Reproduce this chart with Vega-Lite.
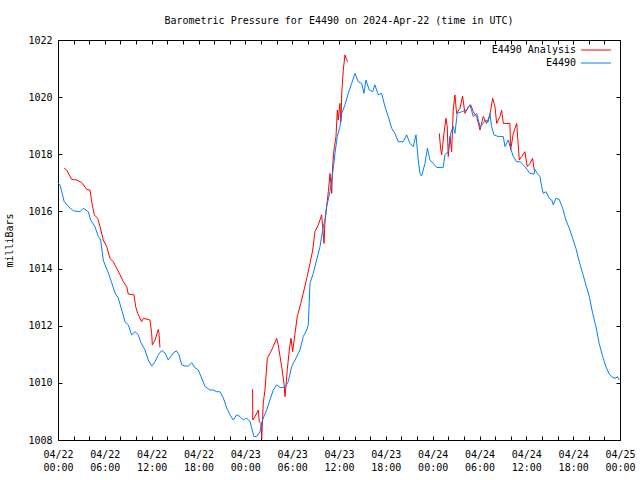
{
  "$schema": "https://vega.github.io/schema/vega-lite/v6.json",
  "width": 562,
  "height": 400,
  "autosize": {"type": "none"},
  "padding": {"left": 58, "top": 40, "right": 20, "bottom": 40},
  "background": "white",
  "title": {
    "text": "Barometric Pressure for E4490 on 2024-Apr-22 (time in UTC)",
    "font": "DejaVu Sans Mono",
    "fontSize": 10,
    "fontWeight": "normal",
    "color": "black",
    "anchor": "middle",
    "frame": "group",
    "baseline": "alphabetic",
    "offset": 1
  },
  "config": {
    "view": {"stroke": "black", "strokeWidth": 1},
    "axis": {
      "domain": false,
      "grid": false,
      "tickColor": "black",
      "tickWidth": 1,
      "tickSize": -4,
      "labelFont": "DejaVu Sans Mono",
      "labelFontSize": 10,
      "labelColor": "black",
      "titleFont": "DejaVu Sans Mono",
      "titleFontSize": 10,
      "titleFontWeight": "normal",
      "titleColor": "black"
    },
    "legend": {
      "labelFont": "DejaVu Sans Mono",
      "labelFontSize": 10,
      "labelColor": "black"
    }
  },
  "data": {
    "values": [
      {"series": "E4490 Analysis", "segment": 1, "time": "2024-04-22T00:48:00Z", "pressure": 1017.51},
      {"series": "E4490 Analysis", "segment": 1, "time": "2024-04-22T01:07:00Z", "pressure": 1017.45},
      {"series": "E4490 Analysis", "segment": 1, "time": "2024-04-22T01:45:00Z", "pressure": 1017.12},
      {"series": "E4490 Analysis", "segment": 1, "time": "2024-04-22T02:24:00Z", "pressure": 1017.10},
      {"series": "E4490 Analysis", "segment": 1, "time": "2024-04-22T03:02:00Z", "pressure": 1017.01},
      {"series": "E4490 Analysis", "segment": 1, "time": "2024-04-22T03:41:00Z", "pressure": 1016.77},
      {"series": "E4490 Analysis", "segment": 1, "time": "2024-04-22T04:06:00Z", "pressure": 1016.75},
      {"series": "E4490 Analysis", "segment": 1, "time": "2024-04-22T04:19:00Z", "pressure": 1016.34},
      {"series": "E4490 Analysis", "segment": 1, "time": "2024-04-22T04:39:00Z", "pressure": 1015.88},
      {"series": "E4490 Analysis", "segment": 1, "time": "2024-04-22T04:50:00Z", "pressure": 1015.82},
      {"series": "E4490 Analysis", "segment": 1, "time": "2024-04-22T05:05:00Z", "pressure": 1015.76},
      {"series": "E4490 Analysis", "segment": 1, "time": "2024-04-22T05:23:00Z", "pressure": 1015.47},
      {"series": "E4490 Analysis", "segment": 1, "time": "2024-04-22T05:48:00Z", "pressure": 1015.00},
      {"series": "E4490 Analysis", "segment": 1, "time": "2024-04-22T06:14:00Z", "pressure": 1014.77},
      {"series": "E4490 Analysis", "segment": 1, "time": "2024-04-22T06:40:00Z", "pressure": 1014.36},
      {"series": "E4490 Analysis", "segment": 1, "time": "2024-04-22T07:05:00Z", "pressure": 1014.24},
      {"series": "E4490 Analysis", "segment": 1, "time": "2024-04-22T07:31:00Z", "pressure": 1014.01},
      {"series": "E4490 Analysis", "segment": 1, "time": "2024-04-22T07:57:00Z", "pressure": 1013.78},
      {"series": "E4490 Analysis", "segment": 1, "time": "2024-04-22T08:22:00Z", "pressure": 1013.54},
      {"series": "E4490 Analysis", "segment": 1, "time": "2024-04-22T08:48:00Z", "pressure": 1013.37},
      {"series": "E4490 Analysis", "segment": 1, "time": "2024-04-22T09:00:00Z", "pressure": 1013.11},
      {"series": "E4490 Analysis", "segment": 1, "time": "2024-04-22T09:44:00Z", "pressure": 1013.08},
      {"series": "E4490 Analysis", "segment": 1, "time": "2024-04-22T09:57:00Z", "pressure": 1012.67},
      {"series": "E4490 Analysis", "segment": 1, "time": "2024-04-22T10:13:00Z", "pressure": 1012.43},
      {"series": "E4490 Analysis", "segment": 1, "time": "2024-04-22T10:43:00Z", "pressure": 1012.14},
      {"series": "E4490 Analysis", "segment": 1, "time": "2024-04-22T10:56:00Z", "pressure": 1012.26},
      {"series": "E4490 Analysis", "segment": 1, "time": "2024-04-22T11:47:00Z", "pressure": 1012.20},
      {"series": "E4490 Analysis", "segment": 1, "time": "2024-04-22T12:00:00Z", "pressure": 1011.73},
      {"series": "E4490 Analysis", "segment": 1, "time": "2024-04-22T12:05:00Z", "pressure": 1011.33},
      {"series": "E4490 Analysis", "segment": 1, "time": "2024-04-22T12:26:00Z", "pressure": 1011.50},
      {"series": "E4490 Analysis", "segment": 1, "time": "2024-04-22T12:51:00Z", "pressure": 1011.87},
      {"series": "E4490 Analysis", "segment": 1, "time": "2024-04-22T12:56:00Z", "pressure": 1011.73},
      {"series": "E4490 Analysis", "segment": 1, "time": "2024-04-22T13:04:00Z", "pressure": 1011.24},
      {"series": "E4490 Analysis", "segment": 2, "time": "2024-04-23T00:56:00Z", "pressure": 1009.78},
      {"series": "E4490 Analysis", "segment": 2, "time": "2024-04-23T00:57:00Z", "pressure": 1008.70},
      {"series": "E4490 Analysis", "segment": 2, "time": "2024-04-23T01:14:00Z", "pressure": 1008.82},
      {"series": "E4490 Analysis", "segment": 2, "time": "2024-04-23T01:40:00Z", "pressure": 1009.05},
      {"series": "E4490 Analysis", "segment": 2, "time": "2024-04-23T01:47:00Z", "pressure": 1008.64},
      {"series": "E4490 Analysis", "segment": 2, "time": "2024-04-23T02:00:00Z", "pressure": 1008.58},
      {"series": "E4490 Analysis", "segment": 2, "time": "2024-04-23T02:06:00Z", "pressure": 1008.05},
      {"series": "E4490 Analysis", "segment": 2, "time": "2024-04-23T02:18:00Z", "pressure": 1009.30},
      {"series": "E4490 Analysis", "segment": 2, "time": "2024-04-23T02:31:00Z", "pressure": 1009.75},
      {"series": "E4490 Analysis", "segment": 2, "time": "2024-04-23T02:49:00Z", "pressure": 1010.86},
      {"series": "E4490 Analysis", "segment": 2, "time": "2024-04-23T03:09:00Z", "pressure": 1011.03},
      {"series": "E4490 Analysis", "segment": 2, "time": "2024-04-23T03:35:00Z", "pressure": 1011.27},
      {"series": "E4490 Analysis", "segment": 2, "time": "2024-04-23T04:01:00Z", "pressure": 1011.56},
      {"series": "E4490 Analysis", "segment": 2, "time": "2024-04-23T04:13:00Z", "pressure": 1011.33},
      {"series": "E4490 Analysis", "segment": 2, "time": "2024-04-23T04:39:00Z", "pressure": 1010.57},
      {"series": "E4490 Analysis", "segment": 2, "time": "2024-04-23T04:57:00Z", "pressure": 1009.98},
      {"series": "E4490 Analysis", "segment": 2, "time": "2024-04-23T05:05:00Z", "pressure": 1009.52},
      {"series": "E4490 Analysis", "segment": 2, "time": "2024-04-23T05:13:00Z", "pressure": 1009.93},
      {"series": "E4490 Analysis", "segment": 2, "time": "2024-04-23T05:22:00Z", "pressure": 1010.45},
      {"series": "E4490 Analysis", "segment": 2, "time": "2024-04-23T05:38:00Z", "pressure": 1011.15},
      {"series": "E4490 Analysis", "segment": 2, "time": "2024-04-23T05:51:00Z", "pressure": 1011.56},
      {"series": "E4490 Analysis", "segment": 2, "time": "2024-04-23T06:04:00Z", "pressure": 1011.09},
      {"series": "E4490 Analysis", "segment": 2, "time": "2024-04-23T06:22:00Z", "pressure": 1011.73},
      {"series": "E4490 Analysis", "segment": 2, "time": "2024-04-23T06:39:00Z", "pressure": 1012.32},
      {"series": "E4490 Analysis", "segment": 2, "time": "2024-04-23T07:06:00Z", "pressure": 1012.78},
      {"series": "E4490 Analysis", "segment": 2, "time": "2024-04-23T07:25:00Z", "pressure": 1013.13},
      {"series": "E4490 Analysis", "segment": 2, "time": "2024-04-23T07:52:00Z", "pressure": 1013.66},
      {"series": "E4490 Analysis", "segment": 2, "time": "2024-04-23T08:17:00Z", "pressure": 1014.18},
      {"series": "E4490 Analysis", "segment": 2, "time": "2024-04-23T08:38:00Z", "pressure": 1014.65},
      {"series": "E4490 Analysis", "segment": 2, "time": "2024-04-23T08:55:00Z", "pressure": 1015.29},
      {"series": "E4490 Analysis", "segment": 2, "time": "2024-04-23T09:21:00Z", "pressure": 1015.53},
      {"series": "E4490 Analysis", "segment": 2, "time": "2024-04-23T09:47:00Z", "pressure": 1015.88},
      {"series": "E4490 Analysis", "segment": 2, "time": "2024-04-23T09:54:00Z", "pressure": 1015.47},
      {"series": "E4490 Analysis", "segment": 2, "time": "2024-04-23T10:05:00Z", "pressure": 1014.88},
      {"series": "E4490 Analysis", "segment": 2, "time": "2024-04-23T10:12:00Z", "pressure": 1015.64},
      {"series": "E4490 Analysis", "segment": 2, "time": "2024-04-23T10:25:00Z", "pressure": 1016.17},
      {"series": "E4490 Analysis", "segment": 2, "time": "2024-04-23T10:38:00Z", "pressure": 1016.69},
      {"series": "E4490 Analysis", "segment": 2, "time": "2024-04-23T10:51:00Z", "pressure": 1017.33},
      {"series": "E4490 Analysis", "segment": 2, "time": "2024-04-23T11:04:00Z", "pressure": 1016.63},
      {"series": "E4490 Analysis", "segment": 2, "time": "2024-04-23T11:11:00Z", "pressure": 1017.57},
      {"series": "E4490 Analysis", "segment": 2, "time": "2024-04-23T11:21:00Z", "pressure": 1018.15},
      {"series": "E4490 Analysis", "segment": 2, "time": "2024-04-23T11:37:00Z", "pressure": 1018.62},
      {"series": "E4490 Analysis", "segment": 2, "time": "2024-04-23T11:47:00Z", "pressure": 1019.55},
      {"series": "E4490 Analysis", "segment": 2, "time": "2024-04-23T11:54:00Z", "pressure": 1019.20},
      {"series": "E4490 Analysis", "segment": 2, "time": "2024-04-23T12:07:00Z", "pressure": 1019.78},
      {"series": "E4490 Analysis", "segment": 2, "time": "2024-04-23T12:15:00Z", "pressure": 1019.14},
      {"series": "E4490 Analysis", "segment": 2, "time": "2024-04-23T12:21:00Z", "pressure": 1020.13},
      {"series": "E4490 Analysis", "segment": 2, "time": "2024-04-23T12:33:00Z", "pressure": 1020.95},
      {"series": "E4490 Analysis", "segment": 2, "time": "2024-04-23T12:46:00Z", "pressure": 1021.48},
      {"series": "E4490 Analysis", "segment": 2, "time": "2024-04-23T12:54:00Z", "pressure": 1021.36},
      {"series": "E4490 Analysis", "segment": 2, "time": "2024-04-23T13:07:00Z", "pressure": 1021.24},
      {"series": "E4490 Analysis", "segment": 3, "time": "2024-04-24T00:51:00Z", "pressure": 1018.73},
      {"series": "E4490 Analysis", "segment": 3, "time": "2024-04-24T01:01:00Z", "pressure": 1018.21},
      {"series": "E4490 Analysis", "segment": 3, "time": "2024-04-24T01:09:00Z", "pressure": 1017.98},
      {"series": "E4490 Analysis", "segment": 3, "time": "2024-04-24T01:27:00Z", "pressure": 1018.73},
      {"series": "E4490 Analysis", "segment": 3, "time": "2024-04-24T01:42:00Z", "pressure": 1019.26},
      {"series": "E4490 Analysis", "segment": 3, "time": "2024-04-24T01:52:00Z", "pressure": 1018.97},
      {"series": "E4490 Analysis", "segment": 3, "time": "2024-04-24T02:00:00Z", "pressure": 1017.92},
      {"series": "E4490 Analysis", "segment": 3, "time": "2024-04-24T02:13:00Z", "pressure": 1018.62},
      {"series": "E4490 Analysis", "segment": 3, "time": "2024-04-24T02:26:00Z", "pressure": 1018.09},
      {"series": "E4490 Analysis", "segment": 3, "time": "2024-04-24T02:38:00Z", "pressure": 1019.55},
      {"series": "E4490 Analysis", "segment": 3, "time": "2024-04-24T02:51:00Z", "pressure": 1020.08},
      {"series": "E4490 Analysis", "segment": 3, "time": "2024-04-24T03:04:00Z", "pressure": 1019.43},
      {"series": "E4490 Analysis", "segment": 3, "time": "2024-04-24T03:30:00Z", "pressure": 1019.61},
      {"series": "E4490 Analysis", "segment": 3, "time": "2024-04-24T03:50:00Z", "pressure": 1020.04},
      {"series": "E4490 Analysis", "segment": 3, "time": "2024-04-24T04:08:00Z", "pressure": 1019.43},
      {"series": "E4490 Analysis", "segment": 3, "time": "2024-04-24T04:34:00Z", "pressure": 1019.67},
      {"series": "E4490 Analysis", "segment": 3, "time": "2024-04-24T04:52:00Z", "pressure": 1019.73},
      {"series": "E4490 Analysis", "segment": 3, "time": "2024-04-24T05:12:00Z", "pressure": 1019.49},
      {"series": "E4490 Analysis", "segment": 3, "time": "2024-04-24T05:38:00Z", "pressure": 1019.32},
      {"series": "E4490 Analysis", "segment": 3, "time": "2024-04-24T06:04:00Z", "pressure": 1018.85},
      {"series": "E4490 Analysis", "segment": 3, "time": "2024-04-24T06:29:00Z", "pressure": 1019.32},
      {"series": "E4490 Analysis", "segment": 3, "time": "2024-04-24T06:55:00Z", "pressure": 1019.08},
      {"series": "E4490 Analysis", "segment": 3, "time": "2024-04-24T07:20:00Z", "pressure": 1019.38},
      {"series": "E4490 Analysis", "segment": 3, "time": "2024-04-24T07:41:00Z", "pressure": 1019.96},
      {"series": "E4490 Analysis", "segment": 3, "time": "2024-04-24T07:59:00Z", "pressure": 1019.67},
      {"series": "E4490 Analysis", "segment": 3, "time": "2024-04-24T08:12:00Z", "pressure": 1019.08},
      {"series": "E4490 Analysis", "segment": 3, "time": "2024-04-24T08:37:00Z", "pressure": 1019.32},
      {"series": "E4490 Analysis", "segment": 3, "time": "2024-04-24T08:50:00Z", "pressure": 1019.55},
      {"series": "E4490 Analysis", "segment": 3, "time": "2024-04-24T09:03:00Z", "pressure": 1019.08},
      {"series": "E4490 Analysis", "segment": 3, "time": "2024-04-24T09:54:00Z", "pressure": 1019.08},
      {"series": "E4490 Analysis", "segment": 3, "time": "2024-04-24T09:59:00Z", "pressure": 1018.15},
      {"series": "E4490 Analysis", "segment": 3, "time": "2024-04-24T10:20:00Z", "pressure": 1018.73},
      {"series": "E4490 Analysis", "segment": 3, "time": "2024-04-24T10:46:00Z", "pressure": 1019.08},
      {"series": "E4490 Analysis", "segment": 3, "time": "2024-04-24T11:06:00Z", "pressure": 1017.80},
      {"series": "E4490 Analysis", "segment": 3, "time": "2024-04-24T11:24:00Z", "pressure": 1017.92},
      {"series": "E4490 Analysis", "segment": 3, "time": "2024-04-24T11:49:00Z", "pressure": 1018.09},
      {"series": "E4490 Analysis", "segment": 3, "time": "2024-04-24T12:07:00Z", "pressure": 1017.57},
      {"series": "E4490 Analysis", "segment": 3, "time": "2024-04-24T12:28:00Z", "pressure": 1017.68},
      {"series": "E4490 Analysis", "segment": 3, "time": "2024-04-24T12:48:00Z", "pressure": 1017.86},
      {"series": "E4490 Analysis", "segment": 3, "time": "2024-04-24T13:01:00Z", "pressure": 1017.45},
      {"series": "E4490", "segment": 0, "time": "2024-04-22T00:00:00Z", "pressure": 1017.00},
      {"series": "E4490", "segment": 0, "time": "2024-04-22T00:15:00Z", "pressure": 1016.93},
      {"series": "E4490", "segment": 0, "time": "2024-04-22T00:48:00Z", "pressure": 1016.34},
      {"series": "E4490", "segment": 0, "time": "2024-04-22T01:32:00Z", "pressure": 1016.12},
      {"series": "E4490", "segment": 0, "time": "2024-04-22T01:58:00Z", "pressure": 1016.02},
      {"series": "E4490", "segment": 0, "time": "2024-04-22T02:49:00Z", "pressure": 1015.99},
      {"series": "E4490", "segment": 0, "time": "2024-04-22T03:14:00Z", "pressure": 1016.11},
      {"series": "E4490", "segment": 0, "time": "2024-04-22T03:53:00Z", "pressure": 1015.99},
      {"series": "E4490", "segment": 0, "time": "2024-04-22T04:11:00Z", "pressure": 1015.70},
      {"series": "E4490", "segment": 0, "time": "2024-04-22T04:44:00Z", "pressure": 1015.47},
      {"series": "E4490", "segment": 0, "time": "2024-04-22T05:10:00Z", "pressure": 1015.12},
      {"series": "E4490", "segment": 0, "time": "2024-04-22T05:28:00Z", "pressure": 1015.00},
      {"series": "E4490", "segment": 0, "time": "2024-04-22T05:48:00Z", "pressure": 1014.30},
      {"series": "E4490", "segment": 0, "time": "2024-04-22T06:01:00Z", "pressure": 1014.13},
      {"series": "E4490", "segment": 0, "time": "2024-04-22T06:27:00Z", "pressure": 1013.85},
      {"series": "E4490", "segment": 0, "time": "2024-04-22T06:53:00Z", "pressure": 1013.50},
      {"series": "E4490", "segment": 0, "time": "2024-04-22T07:18:00Z", "pressure": 1013.15},
      {"series": "E4490", "segment": 0, "time": "2024-04-22T07:43:00Z", "pressure": 1012.97},
      {"series": "E4490", "segment": 0, "time": "2024-04-22T08:10:00Z", "pressure": 1012.55},
      {"series": "E4490", "segment": 0, "time": "2024-04-22T08:35:00Z", "pressure": 1012.14},
      {"series": "E4490", "segment": 0, "time": "2024-04-22T09:00:00Z", "pressure": 1012.03},
      {"series": "E4490", "segment": 0, "time": "2024-04-22T09:26:00Z", "pressure": 1011.68},
      {"series": "E4490", "segment": 0, "time": "2024-04-22T09:52:00Z", "pressure": 1011.79},
      {"series": "E4490", "segment": 0, "time": "2024-04-22T10:17:00Z", "pressure": 1011.68},
      {"series": "E4490", "segment": 0, "time": "2024-04-22T10:38:00Z", "pressure": 1011.40},
      {"series": "E4490", "segment": 0, "time": "2024-04-22T11:09:00Z", "pressure": 1011.15},
      {"series": "E4490", "segment": 0, "time": "2024-04-22T11:34:00Z", "pressure": 1010.80},
      {"series": "E4490", "segment": 0, "time": "2024-04-22T12:00:00Z", "pressure": 1010.59},
      {"series": "E4490", "segment": 0, "time": "2024-04-22T12:26:00Z", "pressure": 1010.74},
      {"series": "E4490", "segment": 0, "time": "2024-04-22T12:51:00Z", "pressure": 1010.98},
      {"series": "E4490", "segment": 0, "time": "2024-04-22T13:17:00Z", "pressure": 1011.13},
      {"series": "E4490", "segment": 0, "time": "2024-04-22T13:42:00Z", "pressure": 1011.05},
      {"series": "E4490", "segment": 0, "time": "2024-04-22T14:08:00Z", "pressure": 1010.80},
      {"series": "E4490", "segment": 0, "time": "2024-04-22T14:46:00Z", "pressure": 1011.05},
      {"series": "E4490", "segment": 0, "time": "2024-04-22T15:12:00Z", "pressure": 1011.12},
      {"series": "E4490", "segment": 0, "time": "2024-04-22T15:30:00Z", "pressure": 1010.98},
      {"series": "E4490", "segment": 0, "time": "2024-04-22T15:51:00Z", "pressure": 1010.63},
      {"series": "E4490", "segment": 0, "time": "2024-04-22T16:16:00Z", "pressure": 1010.59},
      {"series": "E4490", "segment": 0, "time": "2024-04-22T16:42:00Z", "pressure": 1010.59},
      {"series": "E4490", "segment": 0, "time": "2024-04-22T17:08:00Z", "pressure": 1010.70},
      {"series": "E4490", "segment": 0, "time": "2024-04-22T17:33:00Z", "pressure": 1010.53},
      {"series": "E4490", "segment": 0, "time": "2024-04-22T17:58:00Z", "pressure": 1010.45},
      {"series": "E4490", "segment": 0, "time": "2024-04-22T18:24:00Z", "pressure": 1010.17},
      {"series": "E4490", "segment": 0, "time": "2024-04-22T18:50:00Z", "pressure": 1009.87},
      {"series": "E4490", "segment": 0, "time": "2024-04-22T19:28:00Z", "pressure": 1009.75},
      {"series": "E4490", "segment": 0, "time": "2024-04-22T19:54:00Z", "pressure": 1009.75},
      {"series": "E4490", "segment": 0, "time": "2024-04-22T20:20:00Z", "pressure": 1009.69},
      {"series": "E4490", "segment": 0, "time": "2024-04-22T20:45:00Z", "pressure": 1009.69},
      {"series": "E4490", "segment": 0, "time": "2024-04-22T21:11:00Z", "pressure": 1009.47},
      {"series": "E4490", "segment": 0, "time": "2024-04-22T21:37:00Z", "pressure": 1009.12},
      {"series": "E4490", "segment": 0, "time": "2024-04-22T22:02:00Z", "pressure": 1008.88},
      {"series": "E4490", "segment": 0, "time": "2024-04-22T22:27:00Z", "pressure": 1008.70},
      {"series": "E4490", "segment": 0, "time": "2024-04-22T22:53:00Z", "pressure": 1008.88},
      {"series": "E4490", "segment": 0, "time": "2024-04-22T23:19:00Z", "pressure": 1008.82},
      {"series": "E4490", "segment": 0, "time": "2024-04-22T23:44:00Z", "pressure": 1008.70},
      {"series": "E4490", "segment": 0, "time": "2024-04-23T00:10:00Z", "pressure": 1008.77},
      {"series": "E4490", "segment": 0, "time": "2024-04-23T00:36:00Z", "pressure": 1008.64},
      {"series": "E4490", "segment": 0, "time": "2024-04-23T00:49:00Z", "pressure": 1008.42},
      {"series": "E4490", "segment": 0, "time": "2024-04-23T01:06:00Z", "pressure": 1008.12},
      {"series": "E4490", "segment": 0, "time": "2024-04-23T01:27:00Z", "pressure": 1008.12},
      {"series": "E4490", "segment": 0, "time": "2024-04-23T01:53:00Z", "pressure": 1008.29},
      {"series": "E4490", "segment": 0, "time": "2024-04-23T02:06:00Z", "pressure": 1008.60},
      {"series": "E4490", "segment": 0, "time": "2024-04-23T02:18:00Z", "pressure": 1008.77},
      {"series": "E4490", "segment": 0, "time": "2024-04-23T02:44:00Z", "pressure": 1009.05},
      {"series": "E4490", "segment": 0, "time": "2024-04-23T03:09:00Z", "pressure": 1009.40},
      {"series": "E4490", "segment": 0, "time": "2024-04-23T03:35:00Z", "pressure": 1009.75},
      {"series": "E4490", "segment": 0, "time": "2024-04-23T04:01:00Z", "pressure": 1009.93},
      {"series": "E4490", "segment": 0, "time": "2024-04-23T04:26:00Z", "pressure": 1009.84},
      {"series": "E4490", "segment": 0, "time": "2024-04-23T05:05:00Z", "pressure": 1009.84},
      {"series": "E4490", "segment": 0, "time": "2024-04-23T05:30:00Z", "pressure": 1010.04},
      {"series": "E4490", "segment": 0, "time": "2024-04-23T05:56:00Z", "pressure": 1010.57},
      {"series": "E4490", "segment": 0, "time": "2024-04-23T06:22:00Z", "pressure": 1010.80},
      {"series": "E4490", "segment": 0, "time": "2024-04-23T07:00:00Z", "pressure": 1011.15},
      {"series": "E4490", "segment": 0, "time": "2024-04-23T07:25:00Z", "pressure": 1011.62},
      {"series": "E4490", "segment": 0, "time": "2024-04-23T07:52:00Z", "pressure": 1011.85},
      {"series": "E4490", "segment": 0, "time": "2024-04-23T08:04:00Z", "pressure": 1012.03},
      {"series": "E4490", "segment": 0, "time": "2024-04-23T08:17:00Z", "pressure": 1013.48},
      {"series": "E4490", "segment": 0, "time": "2024-04-23T08:42:00Z", "pressure": 1013.83},
      {"series": "E4490", "segment": 0, "time": "2024-04-23T09:08:00Z", "pressure": 1014.30},
      {"series": "E4490", "segment": 0, "time": "2024-04-23T09:34:00Z", "pressure": 1014.77},
      {"series": "E4490", "segment": 0, "time": "2024-04-23T09:54:00Z", "pressure": 1015.35},
      {"series": "E4490", "segment": 0, "time": "2024-04-23T10:12:00Z", "pressure": 1015.70},
      {"series": "E4490", "segment": 0, "time": "2024-04-23T10:25:00Z", "pressure": 1016.17},
      {"series": "E4490", "segment": 0, "time": "2024-04-23T10:51:00Z", "pressure": 1016.69},
      {"series": "E4490", "segment": 0, "time": "2024-04-23T11:16:00Z", "pressure": 1017.51},
      {"series": "E4490", "segment": 0, "time": "2024-04-23T11:29:00Z", "pressure": 1018.03},
      {"series": "E4490", "segment": 0, "time": "2024-04-23T11:47:00Z", "pressure": 1018.62},
      {"series": "E4490", "segment": 0, "time": "2024-04-23T12:07:00Z", "pressure": 1018.97},
      {"series": "E4490", "segment": 0, "time": "2024-04-23T12:21:00Z", "pressure": 1019.43},
      {"series": "E4490", "segment": 0, "time": "2024-04-23T12:46:00Z", "pressure": 1019.73},
      {"series": "E4490", "segment": 0, "time": "2024-04-23T13:11:00Z", "pressure": 1020.13},
      {"series": "E4490", "segment": 0, "time": "2024-04-23T13:37:00Z", "pressure": 1020.48},
      {"series": "E4490", "segment": 0, "time": "2024-04-23T14:03:00Z", "pressure": 1020.83},
      {"series": "E4490", "segment": 0, "time": "2024-04-23T14:28:00Z", "pressure": 1020.54},
      {"series": "E4490", "segment": 0, "time": "2024-04-23T14:54:00Z", "pressure": 1020.48},
      {"series": "E4490", "segment": 0, "time": "2024-04-23T15:12:00Z", "pressure": 1020.13},
      {"series": "E4490", "segment": 0, "time": "2024-04-23T15:27:00Z", "pressure": 1020.60},
      {"series": "E4490", "segment": 0, "time": "2024-04-23T15:53:00Z", "pressure": 1020.25},
      {"series": "E4490", "segment": 0, "time": "2024-04-23T16:19:00Z", "pressure": 1020.19},
      {"series": "E4490", "segment": 0, "time": "2024-04-23T16:36:00Z", "pressure": 1020.43},
      {"series": "E4490", "segment": 0, "time": "2024-04-23T17:02:00Z", "pressure": 1020.08},
      {"series": "E4490", "segment": 0, "time": "2024-04-23T17:28:00Z", "pressure": 1020.13},
      {"series": "E4490", "segment": 0, "time": "2024-04-23T17:53:00Z", "pressure": 1019.67},
      {"series": "E4490", "segment": 0, "time": "2024-04-23T18:19:00Z", "pressure": 1019.32},
      {"series": "E4490", "segment": 0, "time": "2024-04-23T18:45:00Z", "pressure": 1018.91},
      {"series": "E4490", "segment": 0, "time": "2024-04-23T19:10:00Z", "pressure": 1018.73},
      {"series": "E4490", "segment": 0, "time": "2024-04-23T19:36:00Z", "pressure": 1018.44},
      {"series": "E4490", "segment": 0, "time": "2024-04-23T20:14:00Z", "pressure": 1018.44},
      {"series": "E4490", "segment": 0, "time": "2024-04-23T20:40:00Z", "pressure": 1018.68},
      {"series": "E4490", "segment": 0, "time": "2024-04-23T21:05:00Z", "pressure": 1018.38},
      {"series": "E4490", "segment": 0, "time": "2024-04-23T21:31:00Z", "pressure": 1018.27},
      {"series": "E4490", "segment": 0, "time": "2024-04-23T21:52:00Z", "pressure": 1018.68},
      {"series": "E4490", "segment": 0, "time": "2024-04-23T22:09:00Z", "pressure": 1017.80},
      {"series": "E4490", "segment": 0, "time": "2024-04-23T22:22:00Z", "pressure": 1017.33},
      {"series": "E4490", "segment": 0, "time": "2024-04-23T22:35:00Z", "pressure": 1017.24},
      {"series": "E4490", "segment": 0, "time": "2024-04-23T23:01:00Z", "pressure": 1017.68},
      {"series": "E4490", "segment": 0, "time": "2024-04-23T23:20:00Z", "pressure": 1018.21},
      {"series": "E4490", "segment": 0, "time": "2024-04-23T23:39:00Z", "pressure": 1017.80},
      {"series": "E4490", "segment": 0, "time": "2024-04-24T00:05:00Z", "pressure": 1017.68},
      {"series": "E4490", "segment": 0, "time": "2024-04-24T00:31:00Z", "pressure": 1017.54},
      {"series": "E4490", "segment": 0, "time": "2024-04-24T01:21:00Z", "pressure": 1017.54},
      {"series": "E4490", "segment": 0, "time": "2024-04-24T01:34:00Z", "pressure": 1017.98},
      {"series": "E4490", "segment": 0, "time": "2024-04-24T02:00:00Z", "pressure": 1018.09},
      {"series": "E4490", "segment": 0, "time": "2024-04-24T02:18:00Z", "pressure": 1018.73},
      {"series": "E4490", "segment": 0, "time": "2024-04-24T02:38:00Z", "pressure": 1018.97},
      {"series": "E4490", "segment": 0, "time": "2024-04-24T02:51:00Z", "pressure": 1018.73},
      {"series": "E4490", "segment": 0, "time": "2024-04-24T03:09:00Z", "pressure": 1019.43},
      {"series": "E4490", "segment": 0, "time": "2024-04-24T03:43:00Z", "pressure": 1019.49},
      {"series": "E4490", "segment": 0, "time": "2024-04-24T04:21:00Z", "pressure": 1019.55},
      {"series": "E4490", "segment": 0, "time": "2024-04-24T04:47:00Z", "pressure": 1019.73},
      {"series": "E4490", "segment": 0, "time": "2024-04-24T05:12:00Z", "pressure": 1019.32},
      {"series": "E4490", "segment": 0, "time": "2024-04-24T05:38:00Z", "pressure": 1019.43},
      {"series": "E4490", "segment": 0, "time": "2024-04-24T06:04:00Z", "pressure": 1018.97},
      {"series": "E4490", "segment": 0, "time": "2024-04-24T06:29:00Z", "pressure": 1019.08},
      {"series": "E4490", "segment": 0, "time": "2024-04-24T06:42:00Z", "pressure": 1019.20},
      {"series": "E4490", "segment": 0, "time": "2024-04-24T07:07:00Z", "pressure": 1019.14},
      {"series": "E4490", "segment": 0, "time": "2024-04-24T07:20:00Z", "pressure": 1019.43},
      {"series": "E4490", "segment": 0, "time": "2024-04-24T07:33:00Z", "pressure": 1018.97},
      {"series": "E4490", "segment": 0, "time": "2024-04-24T07:51:00Z", "pressure": 1018.68},
      {"series": "E4490", "segment": 0, "time": "2024-04-24T08:24:00Z", "pressure": 1018.62},
      {"series": "E4490", "segment": 0, "time": "2024-04-24T09:03:00Z", "pressure": 1018.62},
      {"series": "E4490", "segment": 0, "time": "2024-04-24T09:16:00Z", "pressure": 1018.27},
      {"series": "E4490", "segment": 0, "time": "2024-04-24T09:41:00Z", "pressure": 1018.50},
      {"series": "E4490", "segment": 0, "time": "2024-04-24T09:59:00Z", "pressure": 1018.21},
      {"series": "E4490", "segment": 0, "time": "2024-04-24T10:20:00Z", "pressure": 1017.92},
      {"series": "E4490", "segment": 0, "time": "2024-04-24T10:46:00Z", "pressure": 1017.74},
      {"series": "E4490", "segment": 0, "time": "2024-04-24T11:11:00Z", "pressure": 1017.74},
      {"series": "E4490", "segment": 0, "time": "2024-04-24T11:49:00Z", "pressure": 1017.57},
      {"series": "E4490", "segment": 0, "time": "2024-04-24T12:28:00Z", "pressure": 1017.33},
      {"series": "E4490", "segment": 0, "time": "2024-04-24T12:59:00Z", "pressure": 1017.31},
      {"series": "E4490", "segment": 0, "time": "2024-04-24T13:06:00Z", "pressure": 1017.47},
      {"series": "E4490", "segment": 0, "time": "2024-04-24T13:24:00Z", "pressure": 1017.33},
      {"series": "E4490", "segment": 0, "time": "2024-04-24T13:45:00Z", "pressure": 1017.22},
      {"series": "E4490", "segment": 0, "time": "2024-04-24T13:58:00Z", "pressure": 1016.87},
      {"series": "E4490", "segment": 0, "time": "2024-04-24T14:10:00Z", "pressure": 1016.63},
      {"series": "E4490", "segment": 0, "time": "2024-04-24T14:31:00Z", "pressure": 1016.69},
      {"series": "E4490", "segment": 0, "time": "2024-04-24T14:56:00Z", "pressure": 1016.46},
      {"series": "E4490", "segment": 0, "time": "2024-04-24T15:15:00Z", "pressure": 1016.40},
      {"series": "E4490", "segment": 0, "time": "2024-04-24T15:27:00Z", "pressure": 1016.23},
      {"series": "E4490", "segment": 0, "time": "2024-04-24T15:48:00Z", "pressure": 1016.46},
      {"series": "E4490", "segment": 0, "time": "2024-04-24T16:13:00Z", "pressure": 1016.42},
      {"series": "E4490", "segment": 0, "time": "2024-04-24T16:39:00Z", "pressure": 1016.11},
      {"series": "E4490", "segment": 0, "time": "2024-04-24T17:04:00Z", "pressure": 1015.70},
      {"series": "E4490", "segment": 0, "time": "2024-04-24T17:30:00Z", "pressure": 1015.41},
      {"series": "E4490", "segment": 0, "time": "2024-04-24T17:56:00Z", "pressure": 1015.06},
      {"series": "E4490", "segment": 0, "time": "2024-04-24T18:21:00Z", "pressure": 1014.71},
      {"series": "E4490", "segment": 0, "time": "2024-04-24T18:47:00Z", "pressure": 1014.24},
      {"series": "E4490", "segment": 0, "time": "2024-04-24T19:13:00Z", "pressure": 1013.83},
      {"series": "E4490", "segment": 0, "time": "2024-04-24T19:38:00Z", "pressure": 1013.43},
      {"series": "E4490", "segment": 0, "time": "2024-04-24T20:04:00Z", "pressure": 1013.02},
      {"series": "E4490", "segment": 0, "time": "2024-04-24T20:30:00Z", "pressure": 1012.43},
      {"series": "E4490", "segment": 0, "time": "2024-04-24T20:55:00Z", "pressure": 1011.97},
      {"series": "E4490", "segment": 0, "time": "2024-04-24T21:20:00Z", "pressure": 1011.38},
      {"series": "E4490", "segment": 0, "time": "2024-04-24T21:47:00Z", "pressure": 1010.92},
      {"series": "E4490", "segment": 0, "time": "2024-04-24T22:12:00Z", "pressure": 1010.57},
      {"series": "E4490", "segment": 0, "time": "2024-04-24T22:37:00Z", "pressure": 1010.31},
      {"series": "E4490", "segment": 0, "time": "2024-04-24T23:03:00Z", "pressure": 1010.19},
      {"series": "E4490", "segment": 0, "time": "2024-04-24T23:29:00Z", "pressure": 1010.16},
      {"series": "E4490", "segment": 0, "time": "2024-04-24T23:39:00Z", "pressure": 1010.22},
      {"series": "E4490", "segment": 0, "time": "2024-04-24T23:54:00Z", "pressure": 1010.10}
    ]
  },
  "encoding": {
    "x": {
      "field": "time",
      "type": "temporal",
      "scale": {
        "type": "utc",
        "domain": [
          {"year": 2024, "month": 4, "date": 22, "hours": 0, "utc": true},
          {"year": 2024, "month": 4, "date": 25, "hours": 0, "utc": true}
        ]
      }
    },
    "y": {
      "field": "pressure",
      "type": "quantitative",
      "scale": {"domain": [1008, 1022], "zero": false, "nice": false}
    },
    "color": {
      "field": "series",
      "type": "nominal",
      "scale": {"domain": ["E4490 Analysis", "E4490"], "range": ["#ff0000", "#0080ff"]},
      "legend": {
        "title": null,
        "orient": "none",
        "legendX": 530,
        "legendY": 2,
        "padding": 0,
        "symbolType": "M-2,0L2,0",
        "symbolSize": 225,
        "symbolStrokeWidth": 1,
        "symbolFillColor": "transparent",
        "labelAlign": "right",
        "labelOffset": -28,
        "rowPadding": 0
      }
    },
    "detail": {"field": "segment", "type": "nominal"}
  },
  "layer": [
    {
      "transform": [{"filter": "datum.series === 'E4490 Analysis'"}],
      "mark": {"type": "line", "strokeWidth": 1},
      "encoding": {
        "x": {
          "field": "time",
          "type": "temporal",
          "title": null,
          "axis": {
            "orient": "bottom",
            "values": [
              {"year": 2024, "month": 4, "date": 22, "hours": 0, "utc": true},
              {"year": 2024, "month": 4, "date": 22, "hours": 2, "utc": true},
              {"year": 2024, "month": 4, "date": 22, "hours": 4, "utc": true},
              {"year": 2024, "month": 4, "date": 22, "hours": 6, "utc": true},
              {"year": 2024, "month": 4, "date": 22, "hours": 8, "utc": true},
              {"year": 2024, "month": 4, "date": 22, "hours": 10, "utc": true},
              {"year": 2024, "month": 4, "date": 22, "hours": 12, "utc": true},
              {"year": 2024, "month": 4, "date": 22, "hours": 14, "utc": true},
              {"year": 2024, "month": 4, "date": 22, "hours": 16, "utc": true},
              {"year": 2024, "month": 4, "date": 22, "hours": 18, "utc": true},
              {"year": 2024, "month": 4, "date": 22, "hours": 20, "utc": true},
              {"year": 2024, "month": 4, "date": 22, "hours": 22, "utc": true},
              {"year": 2024, "month": 4, "date": 23, "hours": 0, "utc": true},
              {"year": 2024, "month": 4, "date": 23, "hours": 2, "utc": true},
              {"year": 2024, "month": 4, "date": 23, "hours": 4, "utc": true},
              {"year": 2024, "month": 4, "date": 23, "hours": 6, "utc": true},
              {"year": 2024, "month": 4, "date": 23, "hours": 8, "utc": true},
              {"year": 2024, "month": 4, "date": 23, "hours": 10, "utc": true},
              {"year": 2024, "month": 4, "date": 23, "hours": 12, "utc": true},
              {"year": 2024, "month": 4, "date": 23, "hours": 14, "utc": true},
              {"year": 2024, "month": 4, "date": 23, "hours": 16, "utc": true},
              {"year": 2024, "month": 4, "date": 23, "hours": 18, "utc": true},
              {"year": 2024, "month": 4, "date": 23, "hours": 20, "utc": true},
              {"year": 2024, "month": 4, "date": 23, "hours": 22, "utc": true},
              {"year": 2024, "month": 4, "date": 24, "hours": 0, "utc": true},
              {"year": 2024, "month": 4, "date": 24, "hours": 2, "utc": true},
              {"year": 2024, "month": 4, "date": 24, "hours": 4, "utc": true},
              {"year": 2024, "month": 4, "date": 24, "hours": 6, "utc": true},
              {"year": 2024, "month": 4, "date": 24, "hours": 8, "utc": true},
              {"year": 2024, "month": 4, "date": 24, "hours": 10, "utc": true},
              {"year": 2024, "month": 4, "date": 24, "hours": 12, "utc": true},
              {"year": 2024, "month": 4, "date": 24, "hours": 14, "utc": true},
              {"year": 2024, "month": 4, "date": 24, "hours": 16, "utc": true},
              {"year": 2024, "month": 4, "date": 24, "hours": 18, "utc": true},
              {"year": 2024, "month": 4, "date": 24, "hours": 20, "utc": true},
              {"year": 2024, "month": 4, "date": 24, "hours": 22, "utc": true},
              {"year": 2024, "month": 4, "date": 25, "hours": 0, "utc": true}
            ],
            "labelExpr": "utchours(datum.value) % 6 === 0 ? [utcFormat(datum.value, '%m/%d'), utcFormat(datum.value, '%H:%M')] : ''",
            "labelOverlap": false,
            "labelFlush": false,
            "labelBaseline": "top",
            "labelPadding": 13,
            "labelLineHeight": 13
          }
        },
        "y": {
          "field": "pressure",
          "type": "quantitative",
          "title": "milliBars",
          "axis": {
            "orient": "left",
            "values": [1008, 1010, 1012, 1014, 1016, 1018, 1020, 1022],
            "format": "d",
            "labelPadding": 10,
            "titlePadding": 13
          }
        }
      }
    },
    {
      "transform": [{"filter": "datum.series === 'E4490'"}],
      "mark": {"type": "line", "strokeWidth": 1},
      "encoding": {
        "x": {
          "field": "time",
          "type": "temporal",
          "title": null,
          "axis": {
            "orient": "top",
            "values": [
              {"year": 2024, "month": 4, "date": 22, "hours": 0, "utc": true},
              {"year": 2024, "month": 4, "date": 22, "hours": 2, "utc": true},
              {"year": 2024, "month": 4, "date": 22, "hours": 4, "utc": true},
              {"year": 2024, "month": 4, "date": 22, "hours": 6, "utc": true},
              {"year": 2024, "month": 4, "date": 22, "hours": 8, "utc": true},
              {"year": 2024, "month": 4, "date": 22, "hours": 10, "utc": true},
              {"year": 2024, "month": 4, "date": 22, "hours": 12, "utc": true},
              {"year": 2024, "month": 4, "date": 22, "hours": 14, "utc": true},
              {"year": 2024, "month": 4, "date": 22, "hours": 16, "utc": true},
              {"year": 2024, "month": 4, "date": 22, "hours": 18, "utc": true},
              {"year": 2024, "month": 4, "date": 22, "hours": 20, "utc": true},
              {"year": 2024, "month": 4, "date": 22, "hours": 22, "utc": true},
              {"year": 2024, "month": 4, "date": 23, "hours": 0, "utc": true},
              {"year": 2024, "month": 4, "date": 23, "hours": 2, "utc": true},
              {"year": 2024, "month": 4, "date": 23, "hours": 4, "utc": true},
              {"year": 2024, "month": 4, "date": 23, "hours": 6, "utc": true},
              {"year": 2024, "month": 4, "date": 23, "hours": 8, "utc": true},
              {"year": 2024, "month": 4, "date": 23, "hours": 10, "utc": true},
              {"year": 2024, "month": 4, "date": 23, "hours": 12, "utc": true},
              {"year": 2024, "month": 4, "date": 23, "hours": 14, "utc": true},
              {"year": 2024, "month": 4, "date": 23, "hours": 16, "utc": true},
              {"year": 2024, "month": 4, "date": 23, "hours": 18, "utc": true},
              {"year": 2024, "month": 4, "date": 23, "hours": 20, "utc": true},
              {"year": 2024, "month": 4, "date": 23, "hours": 22, "utc": true},
              {"year": 2024, "month": 4, "date": 24, "hours": 0, "utc": true},
              {"year": 2024, "month": 4, "date": 24, "hours": 2, "utc": true},
              {"year": 2024, "month": 4, "date": 24, "hours": 4, "utc": true},
              {"year": 2024, "month": 4, "date": 24, "hours": 6, "utc": true},
              {"year": 2024, "month": 4, "date": 24, "hours": 8, "utc": true},
              {"year": 2024, "month": 4, "date": 24, "hours": 10, "utc": true},
              {"year": 2024, "month": 4, "date": 24, "hours": 12, "utc": true},
              {"year": 2024, "month": 4, "date": 24, "hours": 14, "utc": true},
              {"year": 2024, "month": 4, "date": 24, "hours": 16, "utc": true},
              {"year": 2024, "month": 4, "date": 24, "hours": 18, "utc": true},
              {"year": 2024, "month": 4, "date": 24, "hours": 20, "utc": true},
              {"year": 2024, "month": 4, "date": 24, "hours": 22, "utc": true},
              {"year": 2024, "month": 4, "date": 25, "hours": 0, "utc": true}
            ],
            "labels": false
          }
        },
        "y": {
          "field": "pressure",
          "type": "quantitative",
          "title": null,
          "axis": {
            "orient": "right",
            "values": [1008, 1010, 1012, 1014, 1016, 1018, 1020, 1022],
            "labels": false
          }
        }
      }
    }
  ],
  "resolve": {"axis": {"x": "independent", "y": "independent"}}
}
